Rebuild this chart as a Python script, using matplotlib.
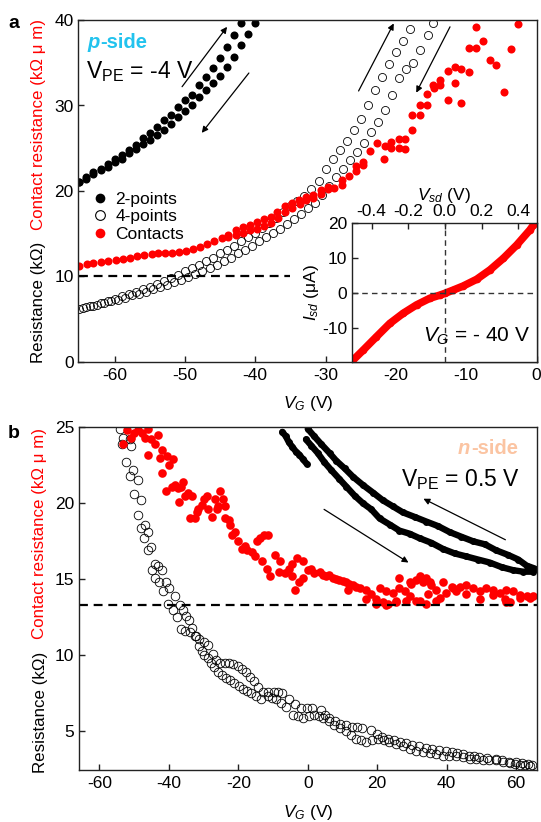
import matplotlib
matplotlib.use('Agg')
import matplotlib.pyplot as plt
from matplotlib.lines import Line2D

plt.rcParams['font.family'] = ['Liberation Sans', 'DejaVu Sans']
plt.rcParams['mathtext.fontset'] = 'custom'
plt.rcParams['mathtext.rm'] = 'Liberation Sans'
plt.rcParams['mathtext.it'] = 'Liberation Sans:italic'
plt.rcParams['mathtext.bf'] = 'Liberation Sans:bold'
plt.rcParams['axes.unicode_minus'] = False

RED = '#ff0000'

# ---------------- panel a data (p-side) ----------------
a_2pt_up_v = [-65, -64, -63, -62, -61, -60, -59, -58, -57, -56, -55, -54, -53, -52, -51, -50,
              -49, -48, -47, -46, -45, -44, -43, -42]
a_2pt_up_r = [21.0, 21.6, 22.2, 22.6, 23.2, 23.7, 24.2, 24.8, 25.4, 26.2, 26.8, 27.5, 28.3, 28.9,
              29.8, 30.6, 31.2, 32.4, 33.3, 34.4, 35.5, 36.9, 38.2, 39.6]
a_2pt_dn_v = [-65, -64, -63, -62, -61, -60, -59, -58, -57, -56, -55, -54, -53, -52, -51, -50,
              -49, -48, -47, -46, -45, -44, -43, -42, -41, -40]
a_2pt_dn_r = [21.0, 21.4, 22.0, 22.4, 22.8, 23.4, 23.8, 24.4, 24.9, 25.5, 26.0, 26.6, 27.1, 27.8,
              28.6, 29.3, 30.0, 31.0, 31.8, 32.6, 33.4, 34.5, 35.7, 37.1, 38.4, 39.7]

a_4pt_up_v = [-65, -64, -63, -62, -61, -60, -59, -58, -57, -56, -55, -54, -53, -52, -51, -50,
              -49, -48, -47, -46, -45, -44, -43, -42, -41, -40, -39, -38, -37, -36, -35, -34,
              -33, -32, -31, -30, -29, -28, -27, -26, -25, -24, -23, -22, -21, -20, -19, -18]
a_4pt_up_r = [6.2, 6.4, 6.6, 6.9, 7.1, 7.4, 7.7, 7.9, 8.2, 8.5, 8.8, 9.1, 9.5, 9.8, 10.2, 10.6,
              11.0, 11.4, 11.8, 12.2, 12.7, 13.1, 13.6, 14.1, 14.6, 15.1, 15.7, 16.3, 16.9, 17.6,
              18.2, 18.8, 19.4, 20.2, 21.2, 22.6, 23.8, 24.8, 25.9, 27.1, 28.4, 30.0, 31.8, 33.3,
              34.8, 36.2, 37.6, 39.0]
a_4pt_dn_v = [-64.5, -63.5, -62.5, -61.5, -60.5, -59.5, -58.5, -57.5, -56.5, -55.5, -54.5, -53.5,
              -52.5, -51.5, -50.5, -49.5, -48.5, -47.5, -46.5, -45.5, -44.5, -43.5, -42.5, -41.5,
              -40.5, -39.5, -38.5, -37.5, -36.5, -35.5, -34.5, -33.5, -32.5, -31.5, -30.5, -29.5,
              -28.5, -27.5, -26.5, -25.5, -24.5, -23.5, -22.5, -21.5, -20.5, -19.5, -18.5, -17.5,
              -16.5, -15.5, -14.7]
a_4pt_dn_r = [6.3, 6.5, 6.7, 6.9, 7.1, 7.3, 7.5, 7.8, 8.0, 8.2, 8.5, 8.8, 9.0, 9.3, 9.6, 9.9,
              10.3, 10.6, 11.0, 11.4, 11.8, 12.2, 12.7, 13.1, 13.6, 14.1, 14.6, 15.1, 15.6, 16.1,
              16.7, 17.3, 18.0, 18.6, 19.5, 20.6, 21.6, 22.6, 23.6, 24.6, 25.6, 26.9, 28.1, 29.5,
              31.2, 33.2, 34.3, 35.0, 36.5, 38.2, 39.7]

a_con_v = [-65.0, -63.9, -63.0, -61.9, -60.9, -59.8, -58.8, -57.8, -56.8, -55.8, -54.7, -53.8,
           -52.8, -51.9, -50.8, -49.8, -48.8, -47.8, -46.8, -45.8, -44.7, -43.8, -42.8, -41.8,
           -40.8, -39.7, -38.8, -37.8, -36.9, -35.8, -34.7, -33.8, -32.8, -31.8, -30.7, -29.7,
           -43.8, -42.8, -41.8, -40.8, -39.7, -38.8, -37.8, -36.8, -35.7, -34.7, -33.7, -32.8,
           -31.8, -30.7, -29.7,
           -28.8, -27.7, -27.7, -26.7, -25.7, -25.7, -24.7, -24.7, -23.7, -22.7, -21.7, -21.6,
           -20.7, -20.7, -19.6, -19.6, -18.7, -18.7, -17.7, -17.7, -16.6, -16.6, -15.6, -15.6,
           -14.7, -14.6, -13.7, -13.7, -12.6, -12.6, -11.6, -11.6, -10.7, -10.7, -9.6, -9.6,
           -8.6, -8.6, -7.6, -6.6, -5.7, -4.6, -3.6, -2.6]
a_con_r = [11.2, 11.5, 11.6, 11.7, 11.8, 11.9, 12.0, 12.2, 12.4, 12.5, 12.6, 12.7,
           12.7, 12.8, 12.9, 13.0, 13.2, 13.5, 13.8, 14.1, 14.5, 14.9, 15.4, 15.8,
           16.0, 16.4, 16.7, 17.0, 17.6, 18.2, 18.6, 19.0, 19.3, 19.5, 20.1, 20.5,
           14.6, 14.9, 15.1, 15.4, 15.6, 15.9, 16.3, 16.8, 17.6, 18.0, 18.5, 18.9,
           19.2, 19.7, 20.2,
           20.3, 20.7, 21.3, 21.7, 22.3, 22.9, 23.0, 23.4, 24.7, 25.6, 23.8, 25.3,
           25.7, 25.0, 26.1, 25.0, 26.1, 24.9, 27.1, 28.9, 28.9, 30.0, 30.0, 31.3,
           32.4, 32.0, 33.0, 32.4, 34.0, 30.7, 34.5, 32.6, 34.3, 30.3, 33.9, 36.7,
           36.7, 39.2, 37.5, 35.3, 34.7, 31.6, 36.6, 39.5]

# inset I-V at V_G = -40 V
iv_v = [-0.51, -0.446, -0.374, -0.301, -0.228, -0.155, -0.082, -0.027, 0.0, 0.046, 0.1,
        0.173, 0.246, 0.319, 0.392, 0.464, 0.483]
iv_i = [-19.5, -16.2, -12.4, -8.6, -5.7, -3.3, -1.4, -0.5, 0.0, 0.95, 2.1, 4.0, 6.7, 10.0,
        13.8, 18.1, 19.5]

# ---------------- panel b data (n-side) ----------------
b_2pt_a_v = [-7.3, -6.3, -5.4, -4.4, -3.4, -2.4, -1.4, -0.3]
b_2pt_a_r = [24.7, 24.4, 24.0, 23.7, 23.4, 23.2, 22.9, 22.6]
b_2pt_up_v = [0.0, 1.9, 3.85, 6.3, 8.2, 10.6, 13.0, 15.9, 18.8, 21.6, 24.5, 27.4, 30.8, 34.1,
              37.5, 40.9, 44.2, 47.6, 51.0, 54.3, 57.7, 60.6, 63.0, 65.4]
b_2pt_up_r = [24.9, 24.4, 23.9, 23.3, 22.8, 22.3, 21.75, 21.2, 20.7, 20.2, 19.8, 19.4, 19.1,
              18.8, 18.5, 18.1, 17.8, 17.5, 17.3, 16.9, 16.6, 16.3, 15.9, 15.7]
b_2pt_dn_v = [-0.5, 1.0, 2.9, 4.8, 6.7, 9.1, 11.1, 13.5, 15.9, 18.3, 20.7, 23.6, 26.4, 29.3,
              32.2, 35.6, 38.9, 42.3, 45.7, 49.0, 52.4, 55.8, 59.1, 62.0, 64.9]
b_2pt_dn_r = [24.2, 23.8, 23.3, 22.7, 22.2, 21.6, 21.1, 20.5, 20.0, 19.6, 19.0, 18.6, 18.2,
              18.0, 17.7, 17.4, 17.0, 16.7, 16.5, 16.3, 16.1, 15.8, 15.6, 15.5, 15.5]

b_4pt_up_v = [-54.1, -53.1, -52.2, -51.2, -49.9, -49.0, -48.0, -47.1, -45.9, -44.9, -44.0, -42.8,
              -41.6, -40.1, -38.7, -37.7, -36.5, -35.2, -34.0, -32.6, -31.2, -30.0, -28.8, -27.4,
              -26.3, -25.2, -23.9, -22.6, -21.4, -20.2, -19.0, -17.8, -16.6, -15.4, -14.2, -13.0,
              -11.5, -9.7, -8.5, -7.3, -5.4, -3.7, -2.0, -0.3, 1.3, 3.7, 5.0, 6.1, 7.8, 9.4, 11.1,
              12.8, 14.2, 15.7, 18.1, 19.8, 21.4, 23.1, 24.8, 26.5, 28.2, 30.1, 32.0, 33.9, 35.9,
              37.8, 39.7, 41.4, 43.1, 44.7, 46.4, 48.0, 49.3, 51.7, 54.1, 56.0, 58.0, 59.9, 61.8,
              63.3, 64.7]
b_4pt_up_r = [24.9, 24.3, 22.7, 21.8, 20.6, 19.2, 18.4, 17.7, 16.9, 15.6, 15.1, 14.8,
              14.2, 13.4, 13.0, 12.5, 11.7, 11.6, 11.5, 11.3, 11.1, 10.9, 10.7, 10.1,
              9.7, 9.5, 9.5, 9.5, 9.4, 9.3, 9.1, 8.9, 8.6, 8.3, 7.9, 7.6,
              7.6, 7.6, 7.6, 7.5, 7.1, 6.8, 6.5, 6.5, 6.5, 6.4, 6.1, 5.9, 5.7, 5.5, 5.4,
              5.3, 5.25, 5.2, 5.1, 4.8, 4.6, 4.5, 4.4, 4.3, 4.2, 4.1, 4.0, 3.9, 3.8,
              3.75, 3.7, 3.65, 3.6, 3.5, 3.4, 3.35, 3.3, 3.25, 3.2, 3.1, 3.0, 2.95, 2.9,
              2.85, 2.8]
b_4pt_dn_v = [-53.6, -51.2, -50.9, -50.2, -49.0, -48.1, -46.9, -46.1, -45.1, -44.0, -43.0, -42.1,
              -40.9, -40.0, -38.2, -36.8, -35.8, -35.1, -34.1, -33.2, -32.2, -31.2, -30.5, -29.8,
              -28.8, -27.9, -26.9, -25.9, -24.7, -23.5, -22.3, -21.1, -19.9, -18.7, -17.5, -16.3,
              -14.8, -13.4, -11.5, -10.3, -9.1, -7.6, -6.2, -4.3, -2.8, -1.4, 0.3, 1.9, 3.1, 4.3,
              6.0, 7.7, 9.4, 11.0, 12.4, 13.9, 15.3, 16.8, 18.5, 20.2, 21.9, 23.5, 25.5, 27.4,
              29.3, 31.2, 33.2, 35.1, 37.0, 38.9, 40.8, 42.7, 44.7, 46.6, 48.5, 50.4, 52.3, 54.3,
              56.2, 58.1, 59.6, 61.0, 62.5, 63.9]
b_4pt_dn_r = [23.9, 24.2, 23.8, 22.2, 21.5, 20.2, 18.6, 18.1, 17.1, 16.0, 15.9, 15.6,
              14.8, 14.4, 13.9, 13.3, 13.0, 12.6, 12.3, 11.8, 11.3, 10.6, 10.3, 10.0,
              9.8, 9.5, 9.2, 8.9, 8.7, 8.5, 8.35, 8.2, 8.0, 7.8, 7.65, 7.5,
              7.3, 7.1, 7.3, 7.2, 7.1, 6.85, 6.6, 6.1, 6.0, 5.9, 6.0, 6.1, 6.0, 5.9,
              5.65, 5.4, 5.2, 5.0, 4.75, 4.5, 4.4, 4.3, 4.4, 4.5, 4.4, 4.3, 4.15, 4.0,
              3.85, 3.7, 3.65, 3.6, 3.5, 3.4, 3.4, 3.4, 3.3, 3.2, 3.15, 3.1, 3.1, 3.1,
              3.0, 2.9, 2.85, 2.8, 2.75, 2.7]

b_con_v = [-53.1, -51.9, -50.9, -50.0, -48.8, -47.8, -46.9, -45.9, -45.9, -45.0, -44.0, -43.0,
           -42.5, -42.1, -42.1, -40.6, -40.9, -39.9, -39.2, -38.7, -38.2, -37.3, -37.1, -36.4,
           -35.8, -35.3, -34.4, -33.9, -33.4, -32.5, -32.0, -31.5, -30.5, -30.0, -29.1, -28.6,
           -27.6, -26.7, -26.2, -25.7, -25.2, -24.3, -23.8, -23.8, -22.8, -22.3, -21.9, -20.9,
           -20.0, -19.0, -18.1, -17.6, -16.1, -15.1, -14.6, -13.7, -12.7, -11.3, -13.2, -11.8,
           -10.8, -9.4, -8.4, -7.9, -6.5, -5.5, -4.6, -4.6, -3.6, -3.1, -2.6, -1.4, -1.4,
           0.0, 1.0, 1.9, 3.4, 4.3, 5.3, 6.2, 7.2, 8.2, 9.1, 10.1, 11.1, 11.5, 12.0, 13.0,
           14.0, 14.9, 16.8, 18.3, 19.7, 20.7, 21.6, 22.6, 23.1, 24.5, 25.5, 26.4, 27.9, 29.3,
           29.8, 31.3, 32.2, 33.2, 34.1, 34.6, 35.6, 37.0, 38.0, 39.9, 41.8, 43.8, 45.7, 47.6,
           49.5, 51.4, 53.4, 55.3, 56.7, 57.2, 58.2, 59.1, 61.0, 63.0, 64.9,
           16.8, 19.7, 22.6, 25.5, 28.4, 31.3, 34.1, 37.0, 42.8, 45.7, 49.5, 53.4, 57.2, 61.0,
           63.9, 26.4, 29.3, 32.2, 35.1, 38.9, 41.4]
b_con_r = [23.9, 24.8, 24.3, 24.6, 24.8, 24.6, 24.3, 24.9, 23.2, 24.2, 23.9, 24.5,
           23.0, 23.5, 22.0, 23.1, 20.8, 22.5, 21.1, 22.9, 21.2, 21.0, 20.1, 21.1,
           21.4, 20.5, 20.7, 19.0, 20.5, 19.0, 19.4, 19.6, 19.9, 20.3, 20.5, 19.6,
           19.1, 20.3, 19.6, 19.8, 20.8, 20.3, 19.8, 19.0, 18.9, 18.6, 17.9, 18.1,
           17.5, 17.0, 17.2, 16.9, 16.8, 16.5, 17.5, 17.7, 17.9, 17.9, 16.2, 15.7,
           15.2, 16.6, 15.5, 16.2, 15.4, 15.7, 16.0, 15.2, 14.3, 16.4, 14.8, 16.2, 15.1,
           15.6, 15.7, 15.4, 15.5, 15.3, 15.2, 15.3, 15.1, 15.0, 14.95, 14.9, 14.8, 14.3, 14.7,
           14.6, 14.5, 14.4, 14.3, 14.0, 13.7, 14.4, 13.5, 14.2, 13.4, 14.1, 13.6, 14.4, 14.2,
           13.9, 14.7, 14.95, 13.6, 14.8, 15.1, 14.0, 14.6, 14.3, 13.8, 14.1, 14.4, 14.5, 14.6,
           14.4, 14.2, 14.4, 14.3, 14.1, 13.7, 14.3, 13.5, 14.2, 13.95, 13.9, 13.9,
           13.7, 13.4, 13.3, 13.5, 13.6, 13.6, 13.4, 13.6, 14.2, 14.0, 13.7, 13.95, 13.5,
           13.75, 13.75, 15.1, 14.8, 15.2, 14.8, 14.8, 14.5]

# ---------------- figure ----------------
W, H = 541, 822
fig = plt.figure(figsize=(W / 100, H / 100), dpi=100)


def fx(px):
    return px / W


def fy(py):
    return 1 - py / H


def style_axes(ax):
    for s in ax.spines.values():
        s.set_linewidth(1.0)
        s.set_color('#222222')
    ax.tick_params(direction='in', length=4, width=1.0, labelsize=12.5, pad=4,
                   color='#222222')


ms_a = 5.8
# ---- panel a ----
axa = fig.add_axes([fx(78), fy(362), fx(536.5 - 78), (362 - 20) / H])
style_axes(axa)
axa.plot(a_2pt_up_v, a_2pt_up_r, 'o', color='black', ms=ms_a, mew=0)
axa.plot(a_2pt_dn_v, a_2pt_dn_r, 'o', color='black', ms=ms_a, mew=0)
axa.plot(a_4pt_up_v, a_4pt_up_r, 'o', mfc='none', mec='black', ms=ms_a, mew=0.6)
axa.plot(a_4pt_dn_v, a_4pt_dn_r, 'o', mfc='none', mec='black', ms=ms_a, mew=0.6)
axa.plot(a_con_v, a_con_r, 'o', color=RED, ms=ms_a, mew=0)
axa.plot([-65, -35], [10, 10], color='black', lw=1.6, ls=(0, (4, 2.6)))
axa.set_xlim(-65.2, 0)
axa.set_ylim(0, 40)
axa.set_xticks([-60, -50, -40, -30, -20, -10, 0])
axa.set_yticks([0, 10, 20, 30, 40])
axa.tick_params(axis='y', pad=3)

arr = dict(arrowstyle='-|>', lw=0.9, color='black', mutation_scale=9, shrinkA=0, shrinkB=0)
axa.annotate('', xy=(-44.0, 39.2), xytext=(-50.4, 32.2), arrowprops=arr)
axa.annotate('', xy=(-47.6, 26.8), xytext=(-40.9, 33.8), arrowprops=arr)
axa.annotate('', xy=(-20.3, 39.6), xytext=(-25.3, 31.7), arrowprops=arr)
axa.annotate('', xy=(-17.1, 31.5), xytext=(-12.3, 39.2), arrowprops=arr)

handles = [Line2D([], [], ls='none', marker='o', color='black', ms=7, mew=0),
           Line2D([], [], ls='none', marker='o', mfc='none', mec='black', ms=7, mew=0.8),
           Line2D([], [], ls='none', marker='o', color=RED, ms=7, mew=0)]
axa.legend(handles, ['2-points', '4-points', 'Contacts'], loc='upper left',
           bbox_to_anchor=((93 - 78) / 458.5, (362 - 192) / 342), frameon=False,
           handlelength=0.8, handletextpad=0.5, labelspacing=0.12, borderpad=0,
           borderaxespad=0, fontsize=12.5)

CYAN = '#22c3ee'
tp = fig.text(fx(87), fy(43), 'p', fontsize=14.5, fontweight='bold', fontstyle='italic',
              color=CYAN, va='center', ha='left')
plt.annotate('-side', xy=(1.0, 0.5), xycoords=tp, xytext=(1, 0),
             textcoords='offset points', fontsize=14.5, fontweight='bold',
             color=CYAN, va='center', ha='left', annotation_clip=False)
fig.text(fx(86), fy(78), r'V$_{\mathrm{PE}}$ = -4 V', fontsize=16.5, va='baseline', ha='left')
fig.text(fx(8), fy(24), 'a', fontsize=14, fontweight='bold', va='center', ha='left')

fig.text(fx(39), fy(302), 'Resistance (kΩ)', rotation=90, fontsize=12.2, ha='center',
         va='center')
fig.text(fx(39), fy(124), 'Contact resistance (kΩ μ m)', rotation=90, fontsize=12.2,
         ha='center', va='center', color=RED)
fig.text(fx(308), fy(403), r'$V_G$ (V)', fontsize=12.5, ha='center', va='center')

# ---- inset ----
axi = fig.add_axes([fx(351.5), fy(362), fx(536.5 - 351.5), (362 - 223.3) / H])
style_axes(axi)
axi.plot(iv_v, iv_i, '-o', color=RED, lw=5.5, ms=5.5, mew=0, solid_capstyle='round',
         solid_joinstyle='round')
axi.axhline(0, color='#333333', lw=1.0, ls=(0, (4, 3)))
axi.axvline(0, color='#333333', lw=1.0, ls=(0, (4, 3)))
axi.set_xlim(-0.51, 0.5)
axi.set_ylim(-19.6, 20)
axi.set_xticks([-0.4, -0.2, 0.0, 0.2, 0.4])
axi.set_xticklabels(['-0.4', '-0.2', '0.0', '0.2', '0.4'])
axi.set_yticks([-10, 0, 10, 20])
axi.xaxis.tick_top()
axi.tick_params(axis='x', pad=3)
axi.tick_params(axis='y', pad=3)
axi.set_xlabel(r'$V_{sd}$ (V)', fontsize=12.5, labelpad=3)
axi.xaxis.set_label_position('top')
axi.set_ylabel(r'$I_{sd}$ (μA)', fontsize=12.5, labelpad=1)
fig.text(fx(423), fy(336), r'$V_G$ = - 40 V', fontsize=15, ha='left', va='center')

# ---- panel b ----
axb = fig.add_axes([fx(78.5), fy(770), fx(537 - 78.5), (770 - 427.3) / H])
style_axes(axb)
axb.plot(b_4pt_up_v, b_4pt_up_r, 'o', mfc='none', mec='black', ms=6.2, mew=0.6)
axb.plot(b_4pt_dn_v, b_4pt_dn_r, 'o', mfc='none', mec='black', ms=6.2, mew=0.6)
axb.plot(b_con_v, b_con_r, 'o', color=RED, ms=6.2, mew=0)
for v, r in [(b_2pt_a_v, b_2pt_a_r), (b_2pt_up_v, b_2pt_up_r), (b_2pt_dn_v, b_2pt_dn_r)]:
    axb.plot(v, r, '-o', color='black', lw=4.6, ms=5.0, mew=0, solid_capstyle='round',
             solid_joinstyle='round')
axb.axhline(13.3, color='black', lw=1.6, ls=(0, (4, 2.6)))
axb.set_xlim(-66, 66)
axb.set_ylim(2.45, 25)
axb.set_xticks([-60, -40, -20, 0, 20, 40, 60])
axb.set_yticks([5, 10, 15, 20, 25])
axb.tick_params(axis='y', pad=3)
axb.annotate('', xy=(33.3, 20.3), xytext=(56.9, 17.6), arrowprops=arr)
axb.annotate('', xy=(29.0, 16.1), xytext=(4.7, 19.6), arrowprops=arr)

ORANGE = '#fbc4a2'
ts = fig.text(fx(518), fy(448), '-side', fontsize=14.5, fontweight='bold', color=ORANGE,
              va='center', ha='right')
plt.annotate('n', xy=(0.0, 0.5), xycoords=ts, xytext=(-1, 0), textcoords='offset points',
             fontsize=14.5, fontweight='bold', fontstyle='italic', color=ORANGE,
             va='center', ha='right', annotation_clip=False)
fig.text(fx(520), fy(486), r'V$_{\mathrm{PE}}$ = 0.5 V', fontsize=16.5, va='baseline',
         ha='right')
fig.text(fx(8), fy(433), 'b', fontsize=14, fontweight='bold', va='center', ha='left')
fig.text(fx(40), fy(712), 'Resistance (kΩ)', rotation=90, fontsize=12.2, ha='center',
         va='center')
fig.text(fx(40), fy(533), 'Contact resistance (kΩ μ m)', rotation=90, fontsize=12.2,
         ha='center', va='center', color=RED)
fig.text(fx(308), fy(812), r'$V_G$ (V)', fontsize=12.5, ha='center', va='center')

fig.savefig('out.png', dpi=100)
